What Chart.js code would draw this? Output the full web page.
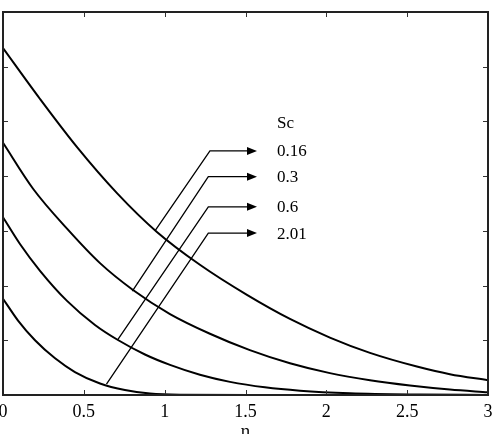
<!DOCTYPE html>
<html>
<head>
<meta charset="utf-8">
<script src="https://cdn.jsdelivr.net/npm/chart.js@4/dist/chart.umd.min.js"></script>
<style>
  html, body { margin: 0; padding: 0; background: #fff; }
  #wrap { width: 493px; height: 434px; }
</style>
</head>
<body>
<div id="wrap"><canvas id="c" width="493" height="434"></canvas></div>
<script>
// Concentration profiles for several Schmidt numbers
const scValues = ['0.16', '0.3', '0.6', '2.01'];

const eta016 = [0, 0.229, 0.458, 0.705, 0.952, 1.218, 1.509, 1.775, 2.022, 2.27, 2.56, 2.764, 3.0];
const val016 = [6.34, 5.41, 4.53, 3.69, 2.98, 2.38, 1.83, 1.39, 1.05, 0.77, 0.52, 0.38, 0.27];

const eta03 = [0, 0.186, 0.396, 0.60, 0.804, 1.033, 1.28, 1.527, 1.775, 2.022, 2.27, 2.517, 2.764, 3.0];
const val03 = [4.61, 3.77, 3.04, 2.41, 1.92, 1.48, 1.12, 0.82, 0.58, 0.40, 0.27, 0.174, 0.10, 0.05];

const eta06 = [0, 0.105, 0.229, 0.396, 0.569, 0.711, 0.878, 1.033, 1.218, 1.404, 1.62, 1.837, 2.146, 2.579, 3.0];
const val06 = [3.25, 2.76, 2.27, 1.72, 1.28, 1.005, 0.74, 0.55, 0.37, 0.24, 0.14, 0.079, 0.033, 0.009, 0.0];

const eta201 = [0, 0.093, 0.198, 0.322, 0.445, 0.60, 0.754, 0.909, 1.095, 1.53, 3.0];
const val201 = [1.76, 1.36, 1.00, 0.67, 0.42, 0.21, 0.09, 0.027, 0.005, 0.0, 0.0];

const xTicks = [0, 0.5, 1, 1.5, 2, 2.5, 3];
const yTicks = [0, 1, 2, 3, 4, 5, 6, 7];

// pointer lines: start on a curve, elbow, then arrow to the label
const pointerStart = [[0.94, 3.0], [0.80, 1.9], [0.71, 1.01], [0.64, 0.2]];
const pointerElbow = [[1.28, 4.46], [1.27, 3.99], [1.27, 3.44], [1.27, 2.96]];
const arrowTipEta = 1.571;
const labelEta = 1.695;
const headerVal = 4.97;

const FONT = "'Liberation Serif', 'Times New Roman', serif";

function pts(xs, ys) {
  return xs.map((x, i) => ({ x, y: ys[i] }));
}

const series = [
  pts(eta016, val016),
  pts(eta03, val03),
  pts(eta06, val06),
  pts(eta201, val201)
];

const framePlugin = {
  id: 'frame',
  afterDatasetsDraw(chart) {
    const { ctx, chartArea: a, scales: { x, y } } = chart;
    ctx.save();

    // inner ticks
    ctx.strokeStyle = '#333';
    ctx.lineWidth = 1;
    ctx.beginPath();
    for (const t of xTicks) {
      const px = Math.round(x.getPixelForValue(t)) + 0.5;
      ctx.moveTo(px, a.bottom); ctx.lineTo(px, a.bottom - 5);
      ctx.moveTo(px, a.top); ctx.lineTo(px, a.top + 5);
    }
    for (const t of yTicks) {
      const py = Math.round(y.getPixelForValue(t)) + 0.5;
      ctx.moveTo(a.left, py); ctx.lineTo(a.left + 5, py);
      ctx.moveTo(a.right, py); ctx.lineTo(a.right - 5, py);
    }
    ctx.stroke();

    // frame
    ctx.lineWidth = 2;
    ctx.strokeStyle = '#222';
    ctx.strokeRect(a.left, a.top, a.right - a.left, a.bottom - a.top);

    // pointers and labels
    ctx.strokeStyle = '#000';
    ctx.fillStyle = '#000';
    ctx.lineWidth = 1.3;
    const tipX = x.getPixelForValue(arrowTipEta);
    pointerStart.forEach((s, i) => {
      const sx = x.getPixelForValue(s[0]), sy = y.getPixelForValue(s[1]);
      const ex = x.getPixelForValue(pointerElbow[i][0]), ey = y.getPixelForValue(pointerElbow[i][1]);
      ctx.beginPath();
      ctx.moveTo(sx, sy);
      ctx.lineTo(ex, ey);
      ctx.lineTo(tipX - 8, ey);
      ctx.stroke();
      ctx.beginPath();
      ctx.moveTo(tipX, ey);
      ctx.lineTo(tipX - 10, ey - 4);
      ctx.lineTo(tipX - 10, ey + 4);
      ctx.closePath();
      ctx.fill();
    });

    ctx.font = '17px ' + FONT;
    ctx.textAlign = 'left';
    ctx.textBaseline = 'middle';
    const lx = x.getPixelForValue(labelEta);
    ctx.fillText('Sc', lx, y.getPixelForValue(headerVal));
    scValues.forEach((s, i) => {
      ctx.fillText(s, lx, y.getPixelForValue(pointerElbow[i][1]) + 1);
    });
    ctx.restore();
  }
};

new Chart(document.getElementById('c'), {
  type: 'line',
  data: {
    datasets: series.map((d, i) => ({
      label: 'Sc = ' + scValues[i],
      data: d,
      borderColor: '#000',
      borderWidth: 2,
      pointRadius: 0,
      fill: false,
      cubicInterpolationMode: 'monotone'
    }))
  },
  options: {
    responsive: false,
    animation: false,
    devicePixelRatio: 1,
    layout: { padding: { left: 3, right: 5, top: 12, bottom: 0 } },
    plugins: { legend: { display: false }, tooltip: { enabled: false } },
    scales: {
      x: {
        type: 'linear',
        min: 0,
        max: 3,
        afterBuildTicks(scale) {
          scale.ticks = xTicks.map(v => ({ value: v }));
        },
        afterFit(scale) {
          scale.height = 39;
          scale.paddingLeft = 0;
          scale.paddingRight = 0;
        },
        ticks: {
          padding: 6,
          maxRotation: 0,
          color: '#000',
          font: { family: FONT, size: 18 },
          callback: v => String(v)
        },
        grid: { display: false, drawTicks: false },
        border: { display: false },
        title: {
          display: true,
          text: 'η',
          color: '#000',
          font: { family: FONT, size: 18 },
          padding: { top: 0, bottom: -9 }
        }
      },
      y: {
        type: 'linear',
        min: 0,
        max: 7,
        display: false
      }
    }
  },
  plugins: [framePlugin]
});
</script>
</body>
</html>
